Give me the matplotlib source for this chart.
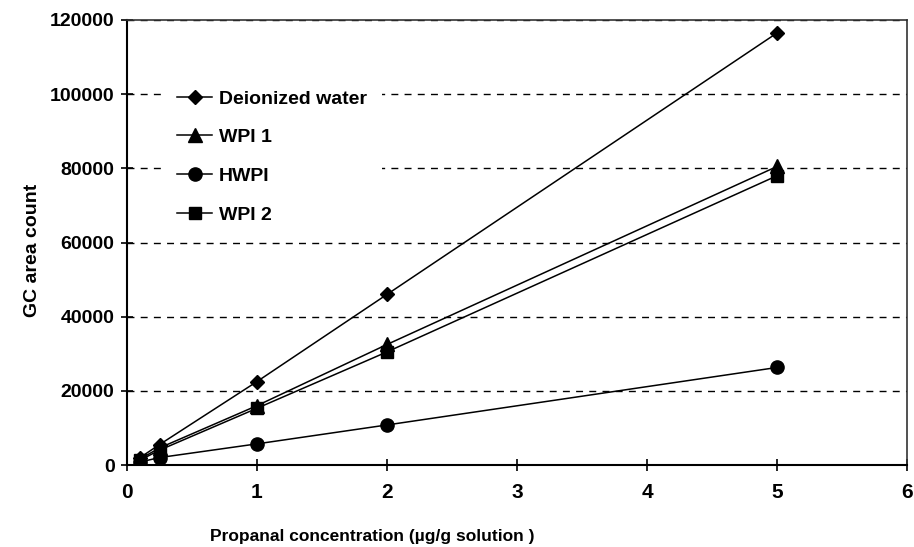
import matplotlib
matplotlib.use("Agg")
import matplotlib.pyplot as plt

concentration = [0.1, 0.25, 1, 2, 5]
deionized_water = [2000, 5500, 22500, 46000, 116500]
wpi1 = [1600, 4600, 16000, 32500, 80500]
hwpi = [800, 2000, 5700, 10800, 26300]
wpi2 = [1300, 4000, 15300, 30500, 78000]

series_names = ["Deionized water", "WPI 1", "HWPI", "WPI 2"]
x_ticks = [0, 1, 2, 3, 4, 5, 6]
y_ticks = [0, 20000, 40000, 60000, 80000, 100000, 120000]

plt.rcParams['font.family'] = ['Liberation Sans', 'DejaVu Sans']
plt.rcParams['font.weight'] = 'bold'

fig = plt.figure(figsize=(9.14, 5.47), dpi=100)
ax = fig.add_axes([127/914, 1-465/547, (907-127)/914, (465-20)/547])

styles = [('D', 7.5), ('^', 9.5), ('o', 9.5), ('s', 8.5)]
for vals, name, (m, ms) in zip([deionized_water, wpi1, hwpi, wpi2], series_names, styles):
    ax.plot(concentration, vals, color='black', lw=1.1, marker=m, markersize=ms,
            markerfacecolor='black', markeredgecolor='black', label=name, zorder=3)

ax.set_xlim(0, 6)
ax.set_ylim(0, 120000)
ax.set_xticks(x_ticks)
ax.set_yticks(y_ticks)
ax.yaxis.grid(True, color='black', linestyle=(0, (5, 4.5)), lw=1.0)
ax.set_axisbelow(True)

for s in ['left', 'bottom']:
    ax.spines[s].set_linewidth(1.5)
for s in ['top', 'right']:
    ax.spines[s].set_linewidth(1.2)
    ax.spines[s].set_color('#333333')

ax.tick_params(axis='both', direction='inout', length=8, width=1.2)
ax.tick_params(axis='x', pad=9)
ax.tick_params(axis='y', pad=5)
for lab in ax.get_xticklabels():
    lab.set_fontweight('bold')
    lab.set_fontsize(15)
for lab in ax.get_yticklabels():
    lab.set_fontweight('bold')
    lab.set_fontsize(14)

ax.set_xlabel("Propanal concentration (\u00b5g/g solution )", fontsize=12.5, fontweight='bold')
ax.xaxis.set_label_coords(0.315, -(529-465)/445)
ax.set_ylabel("GC area count", fontsize=14, fontweight='bold')
ax.yaxis.set_label_coords(-(127-41)/780, (465-250)/445)

leg = ax.legend(loc='upper left', bbox_to_anchor=(34.5/780, 1-54.5/445), frameon=True,
                handlelength=1.8, handletextpad=0.35, labelspacing=1.08,
                borderaxespad=0, borderpad=0.8, prop={'weight': 'bold', 'size': 14})
leg.get_frame().set_facecolor('white')
leg.get_frame().set_edgecolor('none')
leg.get_frame().set_alpha(1)
leg.set_zorder(2)

fig.savefig("out.png", dpi=100)
